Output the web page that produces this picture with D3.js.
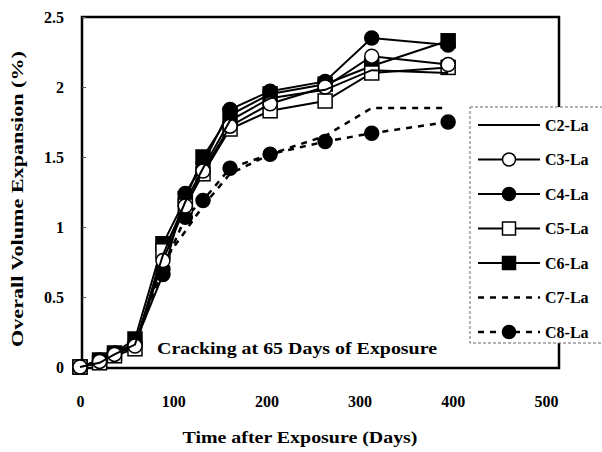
<!DOCTYPE html>
<html>
<head>
<meta charset="utf-8">
<script src="https://cdn.jsdelivr.net/npm/d3@7"></script>
<style>
  body { margin: 0; background: #fff; }
  text { font-family: "Liberation Serif", "Times New Roman", serif; font-weight: bold; fill: #000; }
</style>
</head>
<body>
<script>
// days after exposure
var days = [0, 21, 37, 59, 89, 113, 132, 161, 204, 263, 313, 395];

var c2 = [0, 0.03, 0.09, 0.16, 0.80, 1.18, 1.42, 1.76, 1.92, 1.98, 2.12, 2.10];
var c3 = [0, 0.04, 0.09, 0.15, 0.76, 1.15, 1.40, 1.72, 1.88, 2.00, 2.22, 2.16];
var c4 = [0, 0.05, 0.10, 0.17, 0.66, 1.24, 1.45, 1.84, 1.97, 2.04, 2.35, 2.30];
var c5 = [0, 0.03, 0.08, 0.13, 0.83, 1.15, 1.38, 1.70, 1.83, 1.90, 2.10, 2.14];
var c6 = [0, 0.05, 0.10, 0.20, 0.88, 1.20, 1.50, 1.80, 1.95, 2.02, 2.15, 2.33];
var c7 = [0, 0.03, 0.08, 0.15, 0.75, 0.97, 1.15, 1.38, 1.52, 1.65, 1.85, 1.85];
var c8 = [0, 0.04, 0.09, 0.16, 0.70, 1.07, 1.19, 1.42, 1.52, 1.61, 1.67, 1.75];

var seriesNames = ["C2-La", "C3-La", "C4-La", "C5-La", "C6-La", "C7-La", "C8-La"];
var xTicks = [0, 100, 200, 300, 400, 500];
var yTicks = [0, 0.5, 1, 1.5, 2, 2.5];

var series = [
  {name: seriesNames[0], vals: c2, marker: "none", dash: null},
  {name: seriesNames[1], vals: c3, marker: "circle-open", dash: null},
  {name: seriesNames[2], vals: c4, marker: "circle", dash: null},
  {name: seriesNames[3], vals: c5, marker: "square-open", dash: null},
  {name: seriesNames[4], vals: c6, marker: "square", dash: null},
  {name: seriesNames[5], vals: c7, marker: "none", dash: "6,6"},
  {name: seriesNames[6], vals: c8, marker: "circle", dash: "6,6"}
];

var w = 602, h = 452;
var svg = d3.select("body").append("svg").attr("width", w).attr("height", h);

var x = d3.scaleLinear().domain([0, 500]).range([80, 546]);
var y = d3.scaleLinear().domain([0, 2.5]).range([367, 17]);

// plot frame
svg.append("rect")
  .attr("x", 82).attr("y", 17)
  .attr("width", 477).attr("height", 351)
  .attr("fill", "none").attr("stroke", "#000").attr("stroke-width", 2.5);

// y axis
var yAxis = svg.append("g")
  .attr("transform", "translate(82,0)")
  .call(d3.axisLeft(y).tickValues(yTicks).tickSize(-4).tickPadding(18).tickFormat(function(d) { return d; }));
yAxis.select(".domain").remove();
yAxis.selectAll("text").attr("font-size", "16px").attr("fill", "#000");
yAxis.selectAll("line").attr("stroke", "#555");

// x axis
var xAxis = svg.append("g")
  .attr("transform", "translate(0,368)")
  .call(d3.axisBottom(x).tickValues(xTicks).tickSize(0).tickPadding(28));
xAxis.select(".domain").remove();
xAxis.selectAll("text").attr("font-size", "16px").attr("fill", "#000");

// axis titles
svg.append("text")
  .attr("x", 300).attr("y", 443)
  .attr("text-anchor", "middle")
  .attr("font-size", "17px")
  .attr("textLength", 235).attr("lengthAdjust", "spacingAndGlyphs")
  .text("Time after Exposure (Days)");

svg.append("text")
  .attr("transform", "translate(23,199) rotate(-90)")
  .attr("text-anchor", "middle")
  .attr("font-size", "17px")
  .attr("textLength", 296).attr("lengthAdjust", "spacingAndGlyphs")
  .text("Overall Volume Expansion (%)");

// lines
var line = d3.line()
  .x(function(d) { return x(d[0]); })
  .y(function(d) { return y(d[1]); });

function drawMarker(g, m, cx, cy, r) {
  if (m == "circle" || m == "circle-open") {
    g.append("circle").attr("cx", cx).attr("cy", cy).attr("r", r)
      .attr("fill", m == "circle" ? "#000" : "#fff")
      .attr("stroke", "#000").attr("stroke-width", 1.5);
  } else if (m == "square" || m == "square-open") {
    g.append("rect").attr("x", cx - r).attr("y", cy - r)
      .attr("width", 2 * r).attr("height", 2 * r)
      .attr("fill", m == "square" ? "#000" : "#fff")
      .attr("stroke", "#000").attr("stroke-width", 1.5);
  }
}

// draw in reverse so C2..C6 sit on top of the dashed ones
series.slice().reverse().forEach(function(s) {
  var pts = days.map(function(d, i) { return [d, s.vals[i]]; });
  var g = svg.append("g");
  g.append("path")
    .attr("d", line(pts))
    .attr("fill", "none")
    .attr("stroke", "#000")
    .attr("stroke-width", s.dash ? 2.5 : 2)
    .attr("stroke-dasharray", s.dash);
  pts.forEach(function(p) {
    drawMarker(g, s.marker, x(p[0]), y(p[1]), 7);
  });
});

// annotation
svg.append("text")
  .attr("x", 157).attr("y", 354)
  .attr("font-size", "16px")
  .attr("textLength", 280).attr("lengthAdjust", "spacingAndGlyphs")
  .text("Cracking at 65 Days of Exposure");

// legend
var legend = svg.append("g");
legend.append("rect")
  .attr("x", 470).attr("y", 107)
  .attr("width", 140).attr("height", 236)
  .attr("fill", "#fff")
  .attr("stroke", "#666").attr("stroke-width", 1)
  .attr("stroke-dasharray", "3,2");

series.forEach(function(s, i) {
  var ly = 125 + i * 34.5;
  legend.append("line")
    .attr("x1", 478).attr("x2", 540)
    .attr("y1", ly).attr("y2", ly)
    .attr("stroke", "#000")
    .attr("stroke-width", s.dash ? 2.5 : 2)
    .attr("stroke-dasharray", s.dash);
  drawMarker(legend, s.marker, 509, ly, 6.5);
  legend.append("text")
    .attr("x", 545).attr("y", ly + 5.5)
    .attr("font-size", "16px")
    .text(s.name);
});
</script>
</body>
</html>
